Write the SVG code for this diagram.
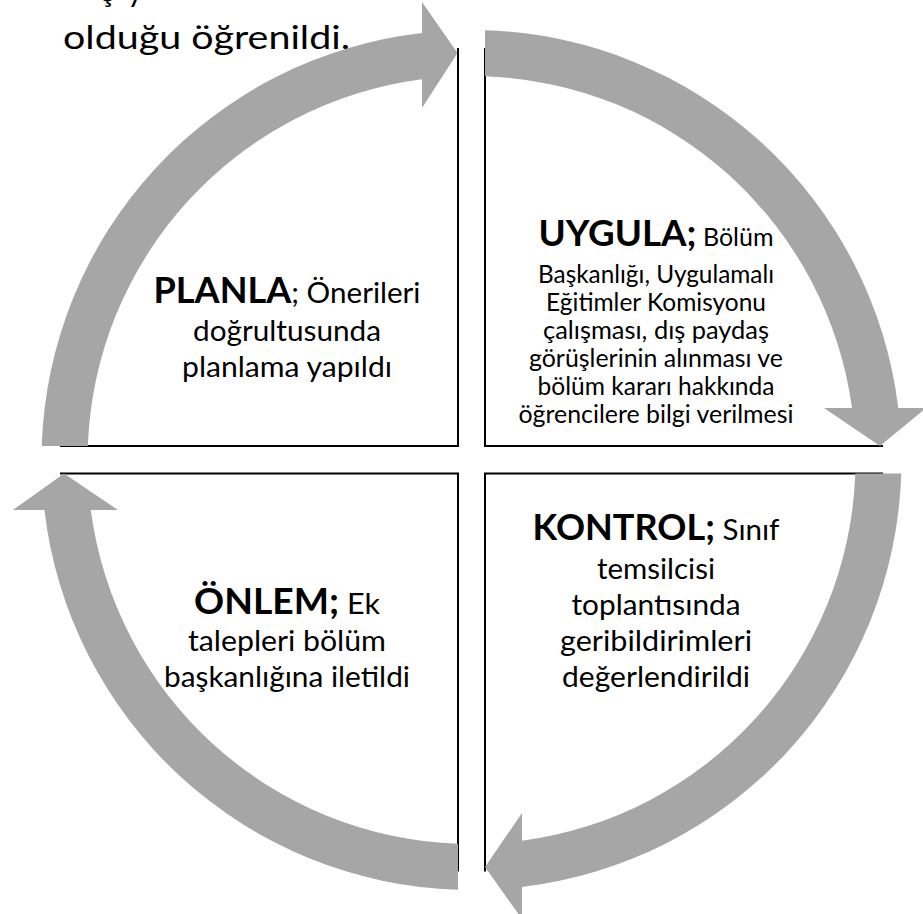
<svg xmlns="http://www.w3.org/2000/svg" width="923" height="914" viewBox="0 0 923 914">
<style>
.box{fill:none;stroke:#000;stroke-width:2}
.arr{fill:#a6a6a6;stroke:none}
text{font-family:Lato,"Liberation Sans",sans-serif;fill:#000}
.c{text-anchor:middle}
.h{font-weight:bold;font-size:36px}
.b{font-size:29.5px}
.s{font-size:24.5px}
.t{font-size:32px}
</style>
<rect width="923" height="914" fill="#fff"/>
<g id="planla">
<polyline class="box" points="60,446 458,446 458,48"/>
<text class="c b" x="287" y="303" textLength="267" lengthAdjust="spacingAndGlyphs"><tspan class="h">PLANLA</tspan>; Önerileri</text>
<text class="c b" x="287" y="341" textLength="188" lengthAdjust="spacingAndGlyphs">doğrultusunda</text>
<text class="c b" x="287" y="377" textLength="210" lengthAdjust="spacingAndGlyphs">planlama yapıldı</text>
</g>
<g id="uygula">
<polyline class="box" points="485,48 485,446 883,446"/>
<text class="c s" x="656" y="246" textLength="235" lengthAdjust="spacingAndGlyphs"><tspan class="h">UYGULA;</tspan> Bölüm</text>
<text class="c s" x="656" y="283" textLength="236" lengthAdjust="spacingAndGlyphs">Başkanlığı, Uygulamalı</text>
<text class="c s" x="656" y="311" textLength="220" lengthAdjust="spacingAndGlyphs">Eğitimler Komisyonu</text>
<text class="c s" x="656" y="339" textLength="226" lengthAdjust="spacingAndGlyphs">çalışması, dış paydaş</text>
<text class="c s" x="656" y="367" textLength="254" lengthAdjust="spacingAndGlyphs">görüşlerinin alınması ve</text>
<text class="c s" x="656" y="395" textLength="237" lengthAdjust="spacingAndGlyphs">bölüm kararı hakkında</text>
<text class="c s" x="656" y="423" textLength="275" lengthAdjust="spacingAndGlyphs">öğrencilere bilgi verilmesi</text>
</g>
<g id="onlem">
<polyline class="box" points="60,473.5 458,473.5 458,871.5"/>
<text class="c b" x="287" y="614" textLength="186" lengthAdjust="spacingAndGlyphs"><tspan class="h">ÖNLEM;</tspan> Ek</text>
<text class="c b" x="287" y="651" textLength="198" lengthAdjust="spacingAndGlyphs">talepleri bölüm</text>
<text class="c b" x="287" y="687" textLength="246" lengthAdjust="spacingAndGlyphs">başkanlığına iletildi</text>
</g>
<g id="kontrol">
<polyline class="box" points="883,473.5 485,473.5 485,871.5"/>
<text class="c b" x="656" y="540" textLength="247" lengthAdjust="spacingAndGlyphs"><tspan class="h">KONTROL;</tspan> Sınıf</text>
<text class="c b" x="656" y="579" textLength="118" lengthAdjust="spacingAndGlyphs">temsilcisi</text>
<text class="c b" x="656" y="615" textLength="169" lengthAdjust="spacingAndGlyphs">toplantısında</text>
<text class="c b" x="656" y="651" textLength="192" lengthAdjust="spacingAndGlyphs">geribildirimleri</text>
<text class="c b" x="656" y="687" textLength="188" lengthAdjust="spacingAndGlyphs">değerlendirildi</text>
</g>
<g id="connectors">
<path class="arr" d="M41.7,446 A430,430 0 0 1 422,32.9 L422,2 L457.5,53 L422,108 L422,79.2 A384,384 0 0 0 87.8,446 Z"/>
<path class="arr" d="M485,30.2 A430,430 0 0 1 898.3,408 L926,408 L880,446 L824,408 L852,408 A384,384 0 0 0 485,76.2 Z"/>
<path class="arr" d="M901.3,473.5 A430,430 0 0 1 522,887 L522,919 L485,867 L522,813 L522,840.7 A384,384 0 0 0 855.3,473.5 Z"/>
<path class="arr" d="M458,889.8 A430,430 0 0 1 44.4,510 L13,510 L64,473.5 L118,510 L90.8,510 A384,384 0 0 0 458,843.8 Z"/>
</g>
<g id="note">
<text class="t" x="101" y="1">ş</text>
<text class="t" x="127" y="1">y</text>
<text class="t" x="63" y="49" textLength="287" lengthAdjust="spacingAndGlyphs">olduğu öğrenildi.</text>
</g>
</svg>
